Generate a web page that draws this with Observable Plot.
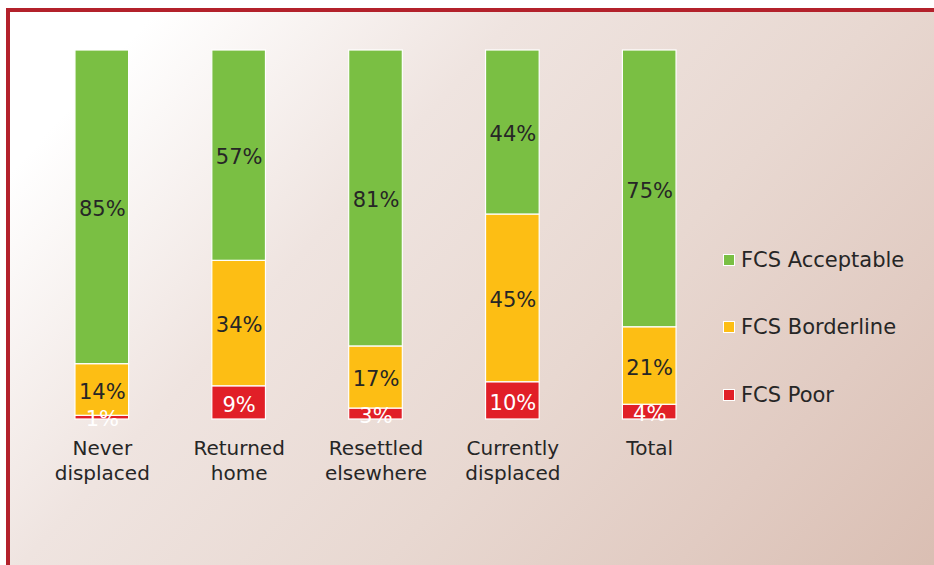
<!DOCTYPE html>
<html>
<head>
<meta charset="utf-8">
<script src="https://cdn.jsdelivr.net/npm/d3@7"></script>
<script src="https://cdn.jsdelivr.net/npm/@observablehq/plot@0.6"></script>
<style>
  html, body { margin: 0; padding: 0; background: #fff; }
  body { width: 934px; height: 565px; position: relative; overflow: hidden; font-family: "DejaVu Sans", Verdana, sans-serif; }
  #frame { position: absolute; left: 6px; top: 8px; width: 940px; height: 570px;
    border-top: 4px solid #b3212b; border-left: 4px solid #b3212b;
    background: linear-gradient(132deg, #ffffff 0%, #ffffff 10%, #efe4e0 35%, #e8d8d1 60%, #e1cbc2 80%, #d9bdb1 100%); }
  #chart { position: absolute; left: 0; top: 0; }
  #legend { position: absolute; left: 723px; top: 0; font-size: 21px; color: #262626; }
  .item { position: absolute; left: 0; white-space: nowrap; display: flex; align-items: center; }
  .sw { width: 10px; height: 10px; border: 1px solid #fff; margin-right: 6px; }
</style>
</head>
<body>
<div id="frame"></div>
<div id="chart"></div>
<div id="legend"></div>
<script>
const categories = ["Never displaced", "Returned home", "Resettled elsewhere", "Currently displaced", "Total"];
const categoryLabels = ["Never\ndisplaced", "Returned\nhome", "Resettled\nelsewhere", "Currently\ndisplaced", "Total"];
const series = ["FCS Poor", "FCS Borderline", "FCS Acceptable"];
const poor = [1, 9, 3, 10, 4];
const borderline = [14, 34, 17, 45, 21];
const acceptable = [85, 57, 81, 44, 75];
const colors = ["#e11f27", "#fdbe14", "#7abf43"];
const legendOrder = ["FCS Acceptable", "FCS Borderline", "FCS Poor"];

const values = [poor, borderline, acceptable];
const data = [];
series.forEach((s, si) => categories.forEach((c, ci) => data.push({category: c, series: s, value: values[si][ci]})));

const labelOf = new Map(categories.map((c, i) => [c, categoryLabels[i]]));

const chart = Plot.plot({
  width: 934,
  height: 565,
  marginLeft: 30,
  marginRight: 213,
  marginTop: 50,
  marginBottom: 146,
  style: {background: "transparent", fontFamily: "DejaVu Sans, Verdana, sans-serif", color: "#262626"},
  x: {domain: categories, paddingInner: 0.608, paddingOuter: 0.3285, align: 0.5, round: false},
  y: {axis: null},
  color: {domain: series, range: colors},
  marks: [
    Plot.barY(data, Plot.stackY({offset: "normalize", order: series, x: "category", y: "value", z: "series", fill: "series", stroke: "#fff", strokeWidth: 1.2})),
    Plot.text(data, Plot.stackY({offset: "normalize", order: series, x: "category", y: "value", z: "series", text: d => d.value + "%", fill: d => d.series === "FCS Poor" ? "#ffffff" : "#262626", fontSize: 21, dy: 2})),
    Plot.axisX({tickSize: 0, tickPadding: 18, fontSize: 20, lineHeight: 1.25, tickFormat: c => labelOf.get(c), fill: "#262626", label: null})
  ]
});
document.getElementById("chart").appendChild(chart);

const legend = document.getElementById("legend");
const legendY = [260, 327, 395];
legendOrder.forEach((s, i) => {
  const item = document.createElement("div");
  item.className = "item";
  item.style.top = (legendY[i] - 12) + "px";
  item.style.height = "24px";
  const sw = document.createElement("span");
  sw.className = "sw";
  sw.style.background = colors[series.indexOf(s)];
  item.appendChild(sw);
  const t = document.createElement("span");
  t.textContent = s;
  item.appendChild(t);
  legend.appendChild(item);
});
</script>
</body>
</html>
